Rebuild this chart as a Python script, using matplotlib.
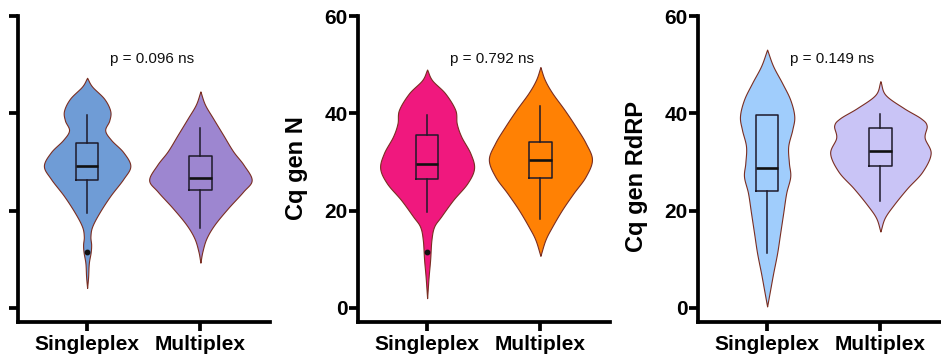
import numpy as np
import matplotlib
matplotlib.use("Agg")
import matplotlib.pyplot as plt

plt.rcParams['font.family'] = ['Liberation Sans', 'DejaVu Sans']

# ---------------- data ----------------
categories = ["Singleplex", "Multiplex"]
y_ticks = [0, 20, 40, 60]
y_labels = [None, "Cq gen N", "Cq gen RdRP"]
p_labels = ["p = 0.096 ns", "p = 0.792 ns", "p = 0.149 ns"]

# violin outlines: Cq value and relative density
p1_single_y = [47.3, 45.5, 43.0, 40.5, 38.5, 36.5, 34.5, 32.0, 29.2, 26.5, 23.0, 19.5, 16.7, 14.7, 13.0, 11.4, 9.2, 6.4, 4.1]
p1_single_d = [0, 5, 17, 23, 22, 18, 24, 36, 43, 36, 23, 12, 5, 3.3, 4, 3.5, 1.7, 1, 0]
p1_multi_y = [44.5, 41.8, 39.0, 35.6, 32.2, 29.4, 26.3, 23.9, 20.5, 17.1, 14.3, 11.6, 9.3]
p1_multi_d = [0, 4.5, 12.5, 22.5, 32.5, 43, 51, 42.5, 27.5, 14, 6, 2, 0]

p2_single_y = [49.0, 46.8, 44.1, 40.7, 37.9, 35.2, 31.8, 28.7, 25.6, 22.2, 18.8, 16.7, 14.0, 9.9, 6.4, 2.0]
p2_single_d = [0, 5, 18, 28, 29.5, 34, 43, 46.7, 40, 26, 14, 7, 4.3, 3, 1.5, 0]
p2_multi_y = [49.5, 46.9, 44.2, 40.7, 37.3, 33.9, 30.5, 27.0, 23.6, 20.2, 16.7, 14.0, 10.7]
p2_multi_d = [0, 4.3, 11.7, 24, 35, 45, 51.3, 45, 33, 21.7, 11.7, 5, 0]

p3_single_y = [53.1, 49.7, 46.2, 42.8, 39.4, 36.6, 33.2, 29.8, 27.0, 23.6, 19.5, 15.4, 11.3, 7.1, 3.7, 0.3]
p3_single_d = [0, 6, 15, 23, 27, 25, 21, 21.7, 23, 19, 16, 13, 10, 6, 3, 0]
p3_multi_y = [46.6, 43.8, 41.1, 39.0, 37.5, 35.0, 31.8, 28.0, 24.6, 21.2, 18.5, 15.7]
p3_multi_d = [0, 5, 23, 40, 46, 44, 50, 41.7, 26.7, 13.3, 4.3, 0]

# box statistics: whisker low, Q1, median, Q3, whisker high, outliers
p1_single_box = [19.6, 26.3, 29.2, 33.8, 39.7]
p1_single_out = [11.4]
p1_multi_box = [16.4, 24.3, 26.8, 31.3, 37.0]
p1_multi_out = []
p2_single_box = [19.7, 26.4, 29.5, 35.5, 39.7]
p2_single_out = [11.4]
p2_multi_box = [18.2, 26.7, 30.5, 34.2, 41.6]
p2_multi_out = []
p3_single_box = [11.3, 24.0, 28.8, 39.7, 39.7]
p3_single_out = []
p3_multi_box = [21.9, 29.1, 32.3, 37.0, 39.8]
p3_multi_out = []

panels = [
    dict(violins=[(p1_single_y, p1_single_d), (p1_multi_y, p1_multi_d)],
         boxes=[(p1_single_box, p1_single_out), (p1_multi_box, p1_multi_out)],
         colors=["#6F9CD6", "#9D86D0"]),
    dict(violins=[(p2_single_y, p2_single_d), (p2_multi_y, p2_multi_d)],
         boxes=[(p2_single_box, p2_single_out), (p2_multi_box, p2_multi_out)],
         colors=["#F0187E", "#FF8104"]),
    dict(violins=[(p3_single_y, p3_single_d), (p3_multi_y, p3_multi_d)],
         boxes=[(p3_single_box, p3_single_out), (p3_multi_box, p3_multi_out)],
         colors=["#A0CDFC", "#C9C4F6"]),
]

# ---------------- helpers ----------------
def catmull_rom(ys, ds, n=24):
    ys = np.asarray(ys, float)
    ds = np.asarray(ds, float)
    P = np.column_stack([ys, ds])
    P = np.vstack([2 * P[0] - P[1], P, 2 * P[-1] - P[-2]])
    out = []
    for i in range(1, len(P) - 2):
        p0, p1, p2, p3 = P[i - 1], P[i], P[i + 1], P[i + 2]
        t = np.linspace(0, 1, n, endpoint=False)[:, None]
        seg = 0.5 * ((2 * p1) + (-p0 + p2) * t + (2 * p0 - 5 * p1 + 4 * p2 - p3) * t ** 2
                     + (-p0 + 3 * p1 - 3 * p2 + p3) * t ** 3)
        out.append(seg)
    out.append(P[-2][None, :])
    out = np.vstack(out)
    return out[:, 0], np.clip(out[:, 1], 0, None)

all_d = max(max(d) for p in panels for (_, d) in p["violins"])
MAX_HW = 0.455

# ---------------- figure ----------------
W, H = 941, 358
fig = plt.figure(figsize=(W / 100, H / 100), dpi=100)

lefts_px = [18, 358, 698]
ax_w_px = 2.22 * 113.3
bottom_px, top_px = 322, 16
xlim = (-0.61, 1.61)
ylim = (-2.9, 60)
label_coords = [None, (-0.20, 0.503), (-0.20, 0.477)]

for i, panel in enumerate(panels):
    ax = fig.add_axes([lefts_px[i] / W, (H - bottom_px) / H, ax_w_px / W, (bottom_px - top_px) / H])
    ax.set_xlim(*xlim)
    ax.set_ylim(*ylim)

    for j, (vy, vd) in enumerate(panel["violins"]):
        yy, dd = catmull_rom(vy, vd)
        hw = dd / all_d * MAX_HW
        ax.fill_betweenx(yy, j - hw, j + hw, facecolor=panel["colors"][j],
                         edgecolor="#7A2E22", linewidth=0.8, zorder=2)

    stats = []
    for (b, out) in panel["boxes"]:
        stats.append(dict(whislo=b[0], q1=b[1], med=b[2], q3=b[3], whishi=b[4], fliers=out))
    ax.bxp(stats, positions=[0, 1], widths=0.2, showcaps=False, patch_artist=False,
           boxprops=dict(color="#1E1A2A", linewidth=1.1),
           whiskerprops=dict(color="#1E1A2A", linewidth=1.1),
           medianprops=dict(color="#111111", linewidth=1.9),
           flierprops=dict(marker="o", markersize=3.2, markerfacecolor="#111111",
                           markeredgecolor="#111111"),
           manage_ticks=False, zorder=3)

    for s in ["top", "right"]:
        ax.spines[s].set_visible(False)
    for s in ["left", "bottom"]:
        ax.spines[s].set_linewidth(2.7)
        ax.spines[s].set_color("black")

    ax.set_xticks([0, 1])
    ax.set_xticklabels(categories, fontsize=15, fontweight="bold")
    ax.set_yticks(y_ticks)
    ax.set_yticklabels([str(t) for t in y_ticks], fontsize=15, fontweight="bold")
    ax.tick_params(axis="both", length=6.5, width=2.7, color="black")
    ax.tick_params(axis="y", pad=1)
    ax.tick_params(axis="x", pad=3)
    if i == 0:
        ax.tick_params(axis="y", labelleft=False)

    if y_labels[i]:
        ax.set_ylabel(y_labels[i], fontsize=17, fontweight="bold")
        ax.yaxis.set_label_coords(*label_coords[i])

    ax.text(0.575, 51.2, p_labels[i], fontsize=11, ha="center", va="center", color="#111111")
    ax.patch.set_alpha(0)

fig.savefig("out.png", dpi=100)
